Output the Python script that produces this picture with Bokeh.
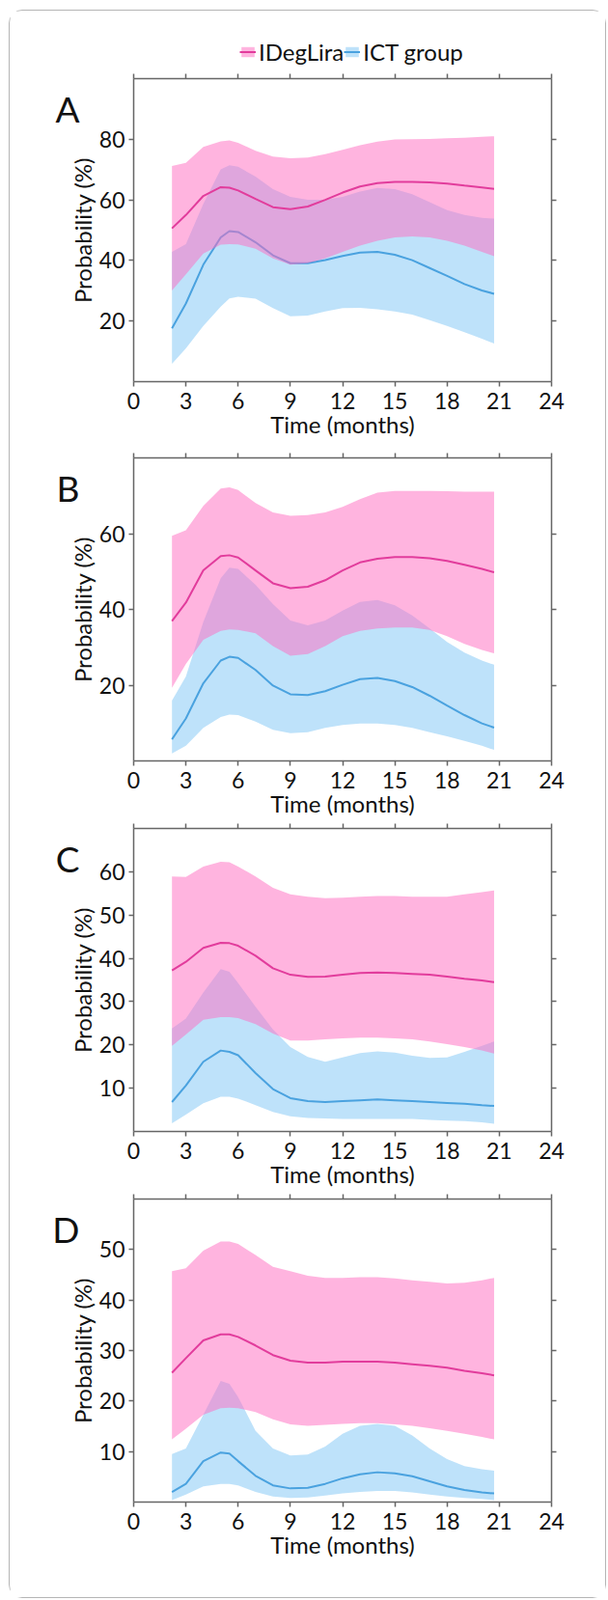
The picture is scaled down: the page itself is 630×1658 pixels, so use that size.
from bokeh.plotting import figure
from bokeh.models import (Range1d, LinearAxis, FixedTicker, Legend, LegendItem,
                          ColumnDataSource, CustomJSTickFormatter)
from bokeh.layouts import column
from bokeh.embed import file_html
from bokeh.resources import INLINE

# ---------------- data ----------------
months = [2.2, 3, 4, 5, 5.5, 6, 7, 8, 9, 10, 11, 12, 13, 14, 15, 16, 17, 18, 19, 20, 20.7]
x_ticks = [0, 3, 6, 9, 12, 15, 18, 21, 24]
series_names = ["IDegLira", "ICT group"]
panel_letters = ["A", "B", "C", "D"]
y_max = [100, 80, 70, 60]
y_ticks_a = [20, 40, 60, 80]
y_ticks_b = [20, 40, 60]
y_ticks_c = [10, 20, 30, 40, 50, 60]
y_ticks_d = [10, 20, 30, 40, 50]

# Panel A
a_ideg_up = [71.2, 72.2, 77.5, 79.3, 79.6, 78.8, 76.2, 74.3, 73.7, 74.0, 75.1, 76.5, 78.0, 79.2, 79.9, 80.0, 80.1, 80.3, 80.5, 80.8, 81.0]
a_ideg_mean = [50.6, 55.0, 61.3, 64.2, 64.0, 63.1, 60.3, 57.6, 56.9, 57.8, 60.0, 62.4, 64.4, 65.5, 65.9, 65.9, 65.8, 65.4, 64.7, 64.1, 63.6]
a_ideg_low = [30.1, 35.4, 42.3, 45.2, 45.4, 45.3, 43.9, 40.7, 38.6, 39.1, 40.7, 42.8, 44.9, 46.5, 47.6, 47.9, 47.6, 46.5, 44.9, 42.8, 41.4]
a_ict_up = [42.8, 45.4, 58.7, 70.1, 71.4, 70.9, 67.7, 63.5, 61.0, 60.0, 60.0, 61.0, 62.7, 63.9, 63.5, 61.9, 59.2, 56.6, 55.0, 54.1, 53.8]
a_ict_mean = [17.6, 25.8, 38.6, 47.6, 49.7, 49.4, 46.0, 41.7, 39.1, 39.1, 40.1, 41.5, 42.6, 42.8, 41.9, 40.1, 37.5, 34.9, 32.2, 30.1, 29.0]
a_ict_low = [5.9, 11.0, 18.4, 24.8, 27.5, 28.0, 27.4, 24.3, 21.6, 21.8, 23.2, 24.3, 24.4, 23.9, 23.2, 22.1, 20.3, 18.4, 16.3, 14.2, 12.6]

# Panel B
b_ideg_up = [59.4, 60.9, 67.3, 71.9, 72.2, 71.5, 68.1, 65.6, 64.7, 64.9, 65.6, 67.1, 69.1, 70.8, 71.3, 71.3, 71.3, 71.2, 71.1, 71.1, 71.1]
b_ideg_mean = [36.9, 41.8, 50.3, 54.1, 54.3, 53.7, 50.3, 46.9, 45.6, 46.0, 47.7, 50.3, 52.4, 53.4, 53.8, 53.8, 53.5, 52.8, 51.8, 50.7, 49.8]
b_ideg_low = [19.3, 25.6, 32.0, 34.3, 34.7, 34.6, 33.7, 30.3, 27.8, 28.2, 30.3, 32.9, 34.3, 35.0, 35.2, 35.2, 34.6, 32.9, 30.9, 29.3, 28.4]
b_ict_up = [15.9, 22.3, 36.7, 48.2, 51.0, 50.7, 46.5, 41.4, 37.1, 35.8, 37.1, 39.7, 42.0, 42.5, 41.1, 38.4, 35.0, 31.4, 28.6, 26.5, 25.4]
b_ict_mean = [5.7, 11.2, 20.5, 26.5, 27.5, 27.2, 24.0, 19.9, 17.6, 17.4, 18.4, 20.1, 21.6, 21.9, 21.1, 19.5, 17.2, 14.6, 12.1, 9.9, 8.8]
b_ict_low = [2.0, 4.0, 8.7, 11.6, 12.2, 12.1, 10.4, 8.2, 7.3, 7.6, 8.7, 9.5, 9.9, 9.9, 9.5, 8.7, 7.6, 6.5, 5.3, 4.0, 2.9]

# Panel C
c_ideg_up = [58.9, 58.8, 61.2, 62.3, 62.2, 61.2, 58.9, 56.3, 54.8, 54.2, 53.9, 54.0, 54.2, 54.4, 54.4, 54.2, 54.2, 54.2, 54.8, 55.3, 55.7]
c_ideg_mean = [37.2, 39.2, 42.4, 43.6, 43.5, 42.9, 40.6, 37.7, 36.2, 35.7, 35.8, 36.2, 36.6, 36.7, 36.6, 36.4, 36.2, 35.8, 35.3, 34.9, 34.5]
c_ideg_low = [19.8, 22.4, 25.8, 26.4, 26.4, 26.2, 24.8, 22.6, 21.0, 21.0, 21.3, 21.5, 21.7, 21.7, 21.5, 21.3, 20.8, 20.2, 19.5, 18.7, 18.0]
c_ict_up = [23.8, 26.1, 32.1, 37.5, 36.9, 34.3, 28.8, 23.6, 19.5, 17.2, 16.1, 17.1, 18.1, 18.5, 18.2, 17.5, 17.0, 17.1, 18.4, 19.8, 20.8]
c_ict_mean = [6.8, 10.6, 16.1, 18.7, 18.4, 17.6, 13.5, 9.8, 7.7, 7.0, 6.8, 7.0, 7.2, 7.4, 7.2, 7.0, 6.8, 6.6, 6.4, 6.1, 5.9]
c_ict_low = [1.9, 3.9, 6.5, 8.0, 8.0, 7.6, 6.1, 4.5, 3.5, 3.1, 3.0, 2.9, 2.9, 2.9, 2.9, 2.9, 2.7, 2.5, 2.4, 2.1, 1.8]

# Panel D
d_ideg_up = [45.7, 46.3, 49.8, 51.6, 51.6, 51.1, 48.9, 46.6, 45.7, 44.8, 44.4, 44.4, 44.5, 44.5, 44.3, 43.9, 43.6, 43.3, 43.4, 43.9, 44.4]
d_ideg_mean = [25.6, 28.5, 32.0, 33.2, 33.2, 32.7, 31.0, 29.1, 28.0, 27.6, 27.6, 27.8, 27.8, 27.8, 27.6, 27.3, 27.0, 26.6, 26.0, 25.5, 25.1]
d_ideg_low = [12.4, 14.5, 17.3, 18.6, 18.7, 18.6, 17.8, 16.4, 15.4, 15.1, 15.3, 15.5, 15.6, 15.6, 15.4, 15.1, 14.6, 14.1, 13.5, 12.9, 12.4]
d_ict_up = [9.5, 10.6, 17.3, 24.0, 23.4, 20.8, 14.1, 10.6, 9.2, 9.4, 11.0, 13.5, 15.1, 15.5, 15.1, 13.2, 10.6, 8.5, 7.1, 6.5, 6.2]
d_ict_mean = [2.0, 3.6, 8.1, 9.8, 9.6, 8.1, 5.2, 3.3, 2.7, 2.8, 3.6, 4.7, 5.5, 5.9, 5.7, 5.1, 4.1, 3.1, 2.4, 1.9, 1.7]
d_ict_low = [0.4, 1.5, 3.1, 3.6, 3.6, 3.3, 2.0, 1.1, 0.8, 0.9, 1.3, 1.7, 2.0, 2.2, 2.2, 1.9, 1.5, 1.1, 0.8, 0.6, 0.4]

# ---------------- style ----------------
FONT = "Lato"
PINK_FILL = "#ff69c0"
PINK_LINE = "#e23c9c"
BLUE_FILL = "#7dc5f5"
BLUE_LINE = "#4aa2df"
AXIS_COL = "#666666"
TEXT_COL = "#111111"
FRAME_W = 433
FRAME_H = 314
FIG_W = 617
BORDER_L = 128
BORDER_R = FIG_W - BORDER_L - FRAME_W


def style_axis(ax, labels=True):
    ax.axis_line_color = AXIS_COL
    ax.axis_line_width = 1.5
    ax.major_tick_line_color = AXIS_COL
    ax.major_tick_line_width = 1.5
    ax.major_tick_in = 0
    ax.major_tick_out = 5
    ax.minor_tick_line_color = None
    ax.major_label_text_font = FONT
    ax.axis_label_text_font = FONT
    ax.axis_label_text_font_style = "normal"
    ax.axis_label_text_color = TEXT_COL
    ax.axis_label_text_font_size = "24px"
    if labels:
        ax.major_label_text_color = TEXT_COL
        ax.major_label_text_font_size = "23px"
        ax.major_label_standoff = 6
        ax.axis_label_standoff = -2
    else:
        ax.major_label_text_color = None
        ax.major_label_text_font_size = "1px"
        ax.major_label_standoff = 0


def make_panel(letter, ymax, yticks, i_low, i_mean, i_up, c_low, c_mean, c_up, mbt, mbb):
    p = figure(frame_width=FRAME_W, frame_height=FRAME_H,
               x_range=Range1d(0, 24), y_range=Range1d(0, ymax),
               min_border_left=BORDER_L, min_border_right=BORDER_R,
               min_border_top=mbt, min_border_bottom=mbb,
               x_axis_location=None, y_axis_location=None,
               toolbar_location=None, output_backend="svg")
    p.outline_line_color = None
    p.grid.visible = False

    src = ColumnDataSource(dict(t=months, il=i_low, im=i_mean, iu=i_up,
                                cl=c_low, cm=c_mean, cu=c_up))
    p.varea(x="t", y1="cl", y2="cu", source=src, fill_color=BLUE_FILL, fill_alpha=0.5)
    p.line(x="t", y="cm", source=src, line_color=BLUE_LINE, line_width=2)
    p.varea(x="t", y1="il", y2="iu", source=src, fill_color=PINK_FILL, fill_alpha=0.5)
    p.line(x="t", y="im", source=src, line_color=PINK_LINE, line_width=2)

    xb = LinearAxis(ticker=FixedTicker(ticks=x_ticks), axis_label="Time (months)")
    xt = LinearAxis(ticker=FixedTicker(ticks=x_ticks))
    yl = LinearAxis(ticker=FixedTicker(ticks=yticks), axis_label="Probability (%)")
    yr = LinearAxis(ticker=FixedTicker(ticks=yticks))
    style_axis(xb, True)
    style_axis(xt, False)
    style_axis(yl, True)
    yl.major_label_standoff = 4
    yl.axis_label_standoff = 0
    style_axis(yr, False)
    p.add_layout(xb, "below")
    p.add_layout(xt, "above")
    p.add_layout(yl, "left")
    p.add_layout(yr, "right")

    # panel letter, drawn as the single label of an extra (line-less) left axis
    letter_pos = ymax * (1 - 2.5 / FRAME_H)
    la = LinearAxis(ticker=FixedTicker(ticks=[letter_pos]),
                    formatter=CustomJSTickFormatter(code="return '%s';" % letter))
    la.axis_line_color = None
    la.major_tick_line_color = None
    la.minor_tick_line_color = None
    la.major_tick_out = 0
    la.major_tick_in = 0
    la.major_label_standoff = -15
    la.major_label_text_font = FONT
    la.major_label_text_font_size = "37px"
    la.major_label_text_color = TEXT_COL
    p.add_layout(la, "left")
    return p, src


pa, src_a = make_panel(panel_letters[0], y_max[0], y_ticks_a, a_ideg_low, a_ideg_mean, a_ideg_up,
                       a_ict_low, a_ict_mean, a_ict_up, 6, 73)
pb, _ = make_panel(panel_letters[1], y_max[1], y_ticks_b, b_ideg_low, b_ideg_mean, b_ideg_up,
                   b_ict_low, b_ict_mean, b_ict_up, 6, 64)
pc, _ = make_panel(panel_letters[2], y_max[2], y_ticks_c, c_ideg_low, c_ideg_mean, c_ideg_up,
                   c_ict_low, c_ict_mean, c_ict_up, 6, 64)
pd, _ = make_panel(panel_letters[3], y_max[3], y_ticks_d, d_ideg_low, d_ideg_mean, d_ideg_up,
                   d_ict_low, d_ict_mean, d_ict_up, 6, 99)

# legend strip above panel A (its swatches come from hidden copies of panel A's series)
leg_fig = figure(height=64, frame_width=FRAME_W, frame_height=64,
                 min_border_left=BORDER_L, min_border_right=BORDER_R,
                 min_border_top=0, min_border_bottom=0,
                 x_range=Range1d(0, 24), y_range=Range1d(0, 100),
                 x_axis_location=None, y_axis_location=None,
                 toolbar_location=None, output_backend="svg")
leg_fig.outline_line_color = None
leg_fig.grid.visible = False
r1 = leg_fig.varea(x="t", y1="il", y2="iu", source=src_a, fill_color=PINK_FILL, fill_alpha=0.5, visible=False)
r2 = leg_fig.line(x="t", y="im", source=src_a, line_color=PINK_LINE, line_width=2, visible=False)
r3 = leg_fig.varea(x="t", y1="cl", y2="cu", source=src_a, fill_color=BLUE_FILL, fill_alpha=0.5, visible=False)
r4 = leg_fig.line(x="t", y="cm", source=src_a, line_color=BLUE_LINE, line_width=2, visible=False)
legend = Legend(items=[LegendItem(label=series_names[0], renderers=[r1, r2]),
                       LegendItem(label=series_names[1], renderers=[r3, r4])],
                orientation="horizontal", location=(110, 7),
                glyph_width=17, glyph_height=13, label_standoff=3, spacing=0,
                padding=0, margin=0, border_line_color=None,
                background_fill_alpha=0, inactive_fill_alpha=0,
                label_text_font=FONT, label_text_font_size="24px",
                label_text_color=TEXT_COL)
leg_fig.add_layout(legend)

layout = column(leg_fig, pa, pb, pc, pd, spacing=0,
                styles={"border": "1px solid #b5b5b5", "border-radius": "14px",
                        "margin-left": "9px", "margin-top": "10px"})

open("out.html", "w").write(file_html(layout, INLINE))
